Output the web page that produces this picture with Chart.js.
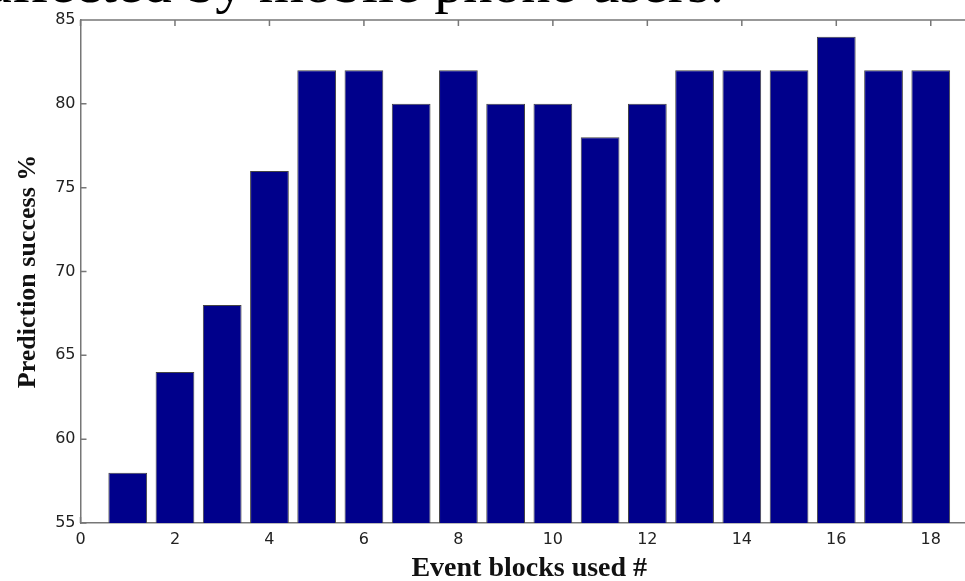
<!DOCTYPE html>
<html>
<head>
<meta charset="utf-8">
<script src="https://cdn.jsdelivr.net/npm/chart.js@4"></script>
<style>
  html, body { margin: 0; padding: 0; background: #fff; overflow: hidden; width: 965px; height: 581px; }
  #wrap { position: relative; width: 965px; height: 581px; overflow: hidden; }
  #caption { position: absolute; left: -14px; top: -46px; font-family: "Liberation Serif", "DejaVu Serif", serif; font-size: 58px; line-height: 1; color: #000; white-space: nowrap; }
  canvas { position: absolute; left: 0; top: 0; }
</style>
</head>
<body>
<div id="wrap">
  <canvas id="successChart" width="1000" height="581"></canvas>
  <div id="caption">affected by mobile phone users.</div>
</div>
<script>
// valeurs
const blocks = [1, 2, 3, 4, 5, 6, 7, 8, 9, 10, 11, 12, 13, 14, 15, 16, 17, 18];
const success = [58, 64, 68, 76, 82, 82, 80, 82, 80, 80, 78, 80, 82, 82, 82, 84, 82, 82];
const xTicks = [0, 2, 4, 6, 8, 10, 12, 14, 16, 18];
const yTicks = [55, 60, 65, 70, 75, 80, 85];

// petits traits vers l'intérieur + cadre du haut (style matlab)
const innerTicks = {
    id: 'innerTicks',
    beforeDatasetsDraw(chart) {
        const { ctx, chartArea, scales } = chart;
        ctx.save();
        ctx.strokeStyle = '#777';
        ctx.lineWidth = 1.5;
        ctx.beginPath();
        ctx.moveTo(chartArea.left, chartArea.top);
        ctx.lineTo(chartArea.right + 30, chartArea.top);
        xTicks.forEach(v => {
            const px = scales.x.getPixelForValue(v);
            ctx.moveTo(px, chartArea.top);
            ctx.lineTo(px, chartArea.top + 6);
            ctx.moveTo(px, chartArea.bottom);
            ctx.lineTo(px, chartArea.bottom - 6);
        });
        yTicks.forEach(v => {
            const py = scales.y.getPixelForValue(v);
            ctx.moveTo(chartArea.left, py);
            ctx.lineTo(chartArea.left + 6, py);
        });
        ctx.stroke();
        ctx.restore();
    }
};

const ctx = document.getElementById('successChart').getContext('2d');
new Chart(ctx, {
    type: 'bar',
    data: {
        datasets: [{
            data: blocks.map((b, i) => ({ x: b, y: success[i] })),
            backgroundColor: '#00008b',
            borderColor: '#444',
            borderWidth: 1,
            barPercentage: 0.82,
            categoryPercentage: 1
        }]
    },
    options: {
        responsive: false,
        animation: false,
        layout: { padding: { top: 20, right: 22, left: 0, bottom: 0 } },
        plugins: { legend: { display: false }, tooltip: { enabled: false } },
        scales: {
            x: {
                type: 'linear',
                min: 0,
                max: 19,
                offset: false,
                afterFit: s => { s.height = 58; },
                afterBuildTicks: s => { s.ticks = xTicks.map(v => ({ value: v })); },
                grid: { display: false, drawTicks: false },
                border: { display: true, color: '#777', width: 1.5 },
                ticks: {
                    padding: 7,
                    color: '#222',
                    font: { family: 'DejaVu Sans', size: 16 }
                },
                title: {
                    display: true,
                    text: 'Event blocks used #',
                    color: '#111',
                    padding: { top: 0, bottom: -2 },
                    font: { family: 'Liberation Serif', size: 28, weight: 'bold', lineHeight: 1 }
                }
            },
            y: {
                min: 55,
                max: 85,
                afterFit: s => { s.width = 80.5; },
                afterBuildTicks: s => { s.ticks = yTicks.map(v => ({ value: v })); },
                grid: { display: false, drawTicks: false },
                border: { display: true, color: '#777', width: 1.5 },
                ticks: {
                    padding: 5,
                    color: '#222',
                    font: { family: 'DejaVu Sans', size: 16 }
                },
                title: {
                    display: true,
                    text: 'Prediction success %',
                    color: '#111',
                    padding: { top: 15, bottom: 0 },
                    font: { family: 'Liberation Serif', size: 26, weight: 'bold', lineHeight: 1 }
                }
            }
        }
    },
    plugins: [innerTicks]
});
</script>
</body>
</html>
